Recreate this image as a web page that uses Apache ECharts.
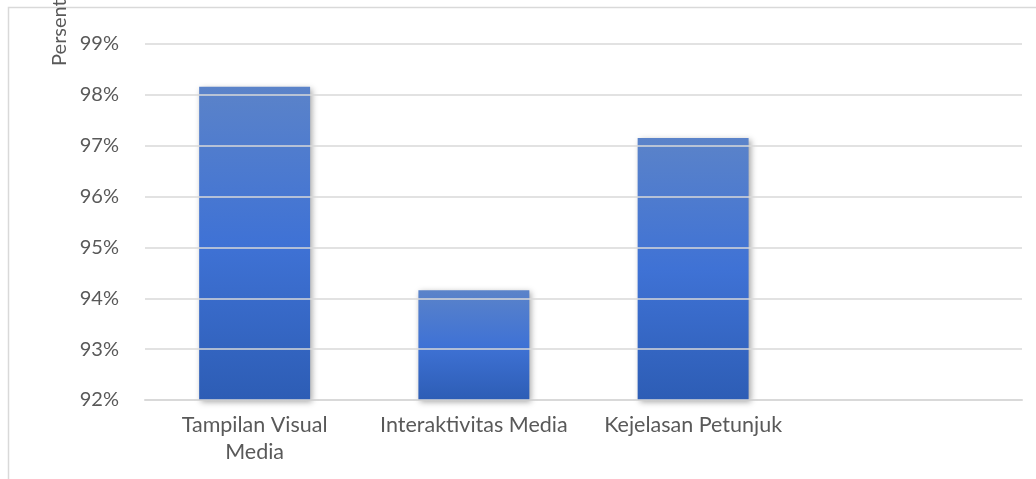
<!DOCTYPE html>
<html>
<head>
<meta charset="utf-8">
<script src="https://cdn.jsdelivr.net/npm/echarts@6/dist/echarts.min.js"></script>
<style>
  html, body { margin: 0; padding: 0; background: #ffffff; }
  #chart { width: 1036px; height: 479px; }
</style>
</head>
<body>
<div id="chart"></div>
<script>
// Assessment aspects (the last slot is left empty) and their scores in percent
const categories = ['Tampilan Visual\nMedia', 'Interaktivitas Media', 'Kejelasan Petunjuk', ''];
const scores = [98.16, 94.16, 97.15, null];
const yMin = 92;
const yMax = 99;
const yTitle = 'Persentase';

const FONT = 'Lato';
const TEXT = '#595959';
const LINE = '#d9d9d9';

const chart = echarts.init(document.getElementById('chart'), null, { renderer: 'canvas' });

chart.setOption({
  animation: false,
  backgroundColor: '#ffffff',
  grid: { left: 145, right: 14, top: 44, bottom: 79 },
  graphic: [
    {
      type: 'rect',
      shape: { x: 8.5, y: 7.5, width: 1200, height: 600 },
      style: { fill: 'none', stroke: LINE, lineWidth: 1.5 },
      z: 0
    },
    {
      type: 'text',
      x: 60,
      y: 18,
      rotation: Math.PI / 2,
      style: {
        text: yTitle,
        font: '20px ' + FONT,
        fill: TEXT,
        align: 'center',
        verticalAlign: 'middle'
      },
      z: 10
    }
  ],
  xAxis: {
    type: 'category',
    data: categories,
    axisLine: { show: true, lineStyle: { color: LINE, width: 2 } },
    axisTick: { show: false },
    axisLabel: {
      color: TEXT,
      fontFamily: FONT,
      fontSize: 21.5,
      lineHeight: 27,
      margin: 12,
      interval: 0
    }
  },
  yAxis: {
    type: 'value',
    min: yMin,
    max: yMax,
    interval: 1,
    z: 5,
    axisLine: { show: false },
    axisTick: { show: false },
    splitLine: { show: true, lineStyle: { color: LINE, width: 1.5 } },
    axisLabel: {
      color: TEXT,
      fontFamily: FONT,
      fontSize: 20,
      margin: 26,
      formatter: v => v + '%'
    }
  },
  series: [{
    type: 'bar',
    data: scores,
    barWidth: '50.6%',
    z: 2,
    itemStyle: {
      color: new echarts.graphic.LinearGradient(0, 0, 0, 1, [
        { offset: 0, color: '#5b83c9' },
        { offset: 0.5, color: '#3f72d5' },
        { offset: 1, color: '#2d5db5' }
      ]),
      shadowColor: 'rgba(0,0,0,0.35)',
      shadowBlur: 6,
      shadowOffsetX: 2,
      shadowOffsetY: 2
    }
  }]
});
</script>
</body>
</html>
